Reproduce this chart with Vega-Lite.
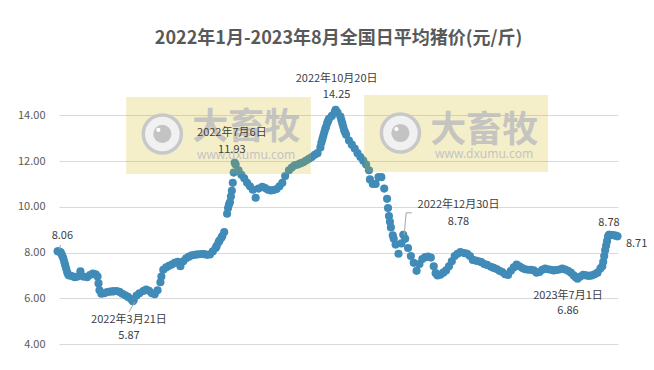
{
  "$schema": "https://vega.github.io/schema/vega-lite/v6.json",
  "width": 559,
  "height": 264,
  "autosize": "none",
  "padding": {"left": 59, "top": 80, "right": 36, "bottom": 26},
  "background": "white",
  "config": {"view": {"stroke": null}, "font": "Noto Sans CJK SC"},
  "title": {"text": "2022年1月-2023年8月全国日平均猪价(元/斤)", "font": "Noto Sans CJK SC", "fontSize": 18, "fontWeight": "bold", "color": "#595959", "anchor": "middle", "frame": "group", "offset": 11, "baseline": "alphabetic"},
  "datasets": {
    "price": [
      {"date":"2022-01-01","v":8.06},{"date":"2022-01-02","v":8.05},{"date":"2022-01-04","v":8.02},{"date":"2022-01-05","v":7.95},{"date":"2022-01-06","v":7.85},{"date":"2022-01-07","v":7.75},{"date":"2022-01-08","v":7.6},{"date":"2022-01-09","v":7.45},{"date":"2022-01-10","v":7.3},{"date":"2022-01-11","v":7.15},{"date":"2022-01-12","v":7.05},{"date":"2022-01-13","v":7.0},{"date":"2022-01-16","v":6.97},{"date":"2022-01-19","v":6.92},{"date":"2022-01-22","v":6.95},{"date":"2022-01-25","v":7.18},{"date":"2022-01-28","v":6.95},
      {"date":"2022-02-01","v":6.92},{"date":"2022-02-04","v":7.02},{"date":"2022-02-07","v":7.08},{"date":"2022-02-10","v":7.05},{"date":"2022-02-12","v":6.95},{"date":"2022-02-13","v":6.65},{"date":"2022-02-14","v":6.35},{"date":"2022-02-16","v":6.2},{"date":"2022-02-19","v":6.22},{"date":"2022-02-22","v":6.27},{"date":"2022-02-25","v":6.29},{"date":"2022-02-28","v":6.3},
      {"date":"2022-03-01","v":6.31},{"date":"2022-03-04","v":6.32},{"date":"2022-03-07","v":6.28},{"date":"2022-03-10","v":6.2},{"date":"2022-03-13","v":6.13},{"date":"2022-03-16","v":6.06},{"date":"2022-03-19","v":5.97},{"date":"2022-03-21","v":5.87},{"date":"2022-03-22","v":5.92},{"date":"2022-03-25","v":6.12},{"date":"2022-03-28","v":6.22},
      {"date":"2022-04-01","v":6.32},{"date":"2022-04-04","v":6.38},{"date":"2022-04-07","v":6.33},{"date":"2022-04-10","v":6.22},{"date":"2022-04-13","v":6.18},{"date":"2022-04-16","v":6.35},{"date":"2022-04-19","v":6.7},{"date":"2022-04-20","v":6.95},{"date":"2022-04-22","v":7.25},{"date":"2022-04-25","v":7.35},{"date":"2022-04-28","v":7.42},
      {"date":"2022-05-01","v":7.48},{"date":"2022-05-04","v":7.55},{"date":"2022-05-07","v":7.6},{"date":"2022-05-10","v":7.4},{"date":"2022-05-13","v":7.62},{"date":"2022-05-16","v":7.75},{"date":"2022-05-19","v":7.82},{"date":"2022-05-22","v":7.88},{"date":"2022-05-25","v":7.9},{"date":"2022-05-28","v":7.92},
      {"date":"2022-06-01","v":7.94},{"date":"2022-06-04","v":7.93},{"date":"2022-06-07","v":7.9},{"date":"2022-06-10","v":7.92},{"date":"2022-06-13","v":8.05},{"date":"2022-06-16","v":8.2},{"date":"2022-06-17","v":8.28},{"date":"2022-06-19","v":8.45},{"date":"2022-06-20","v":8.52},{"date":"2022-06-22","v":8.65},{"date":"2022-06-23","v":8.72},{"date":"2022-06-25","v":8.9},{"date":"2022-06-28","v":9.7},{"date":"2022-06-29","v":9.95},{"date":"2022-06-30","v":10.1},
      {"date":"2022-07-01","v":10.2},{"date":"2022-07-02","v":10.45},{"date":"2022-07-03","v":10.7},{"date":"2022-07-04","v":11.05},{"date":"2022-07-05","v":11.5},{"date":"2022-07-06","v":11.93},{"date":"2022-07-07","v":11.85},{"date":"2022-07-10","v":11.6},{"date":"2022-07-13","v":11.4},{"date":"2022-07-16","v":11.25},{"date":"2022-07-19","v":11.05},{"date":"2022-07-22","v":10.9},{"date":"2022-07-25","v":10.75},{"date":"2022-07-28","v":10.4},{"date":"2022-07-31","v":10.8},
      {"date":"2022-08-04","v":10.88},{"date":"2022-08-07","v":10.82},{"date":"2022-08-10","v":10.75},{"date":"2022-08-13","v":10.72},{"date":"2022-08-16","v":10.74},{"date":"2022-08-19","v":10.78},{"date":"2022-08-22","v":10.9},{"date":"2022-08-25","v":11.05},{"date":"2022-08-28","v":11.35},
      {"date":"2022-09-01","v":11.6},{"date":"2022-09-04","v":11.72},{"date":"2022-09-07","v":11.82},{"date":"2022-09-10","v":11.85},{"date":"2022-09-13","v":11.9},{"date":"2022-09-16","v":11.95},{"date":"2022-09-19","v":12.03},{"date":"2022-09-22","v":12.1},{"date":"2022-09-25","v":12.18},{"date":"2022-09-28","v":12.28},
      {"date":"2022-10-01","v":12.35},{"date":"2022-10-04","v":12.6},{"date":"2022-10-05","v":12.8},{"date":"2022-10-06","v":12.95},{"date":"2022-10-07","v":13.1},{"date":"2022-10-08","v":13.25},{"date":"2022-10-09","v":13.4},{"date":"2022-10-10","v":13.5},{"date":"2022-10-11","v":13.65},{"date":"2022-10-12","v":13.75},{"date":"2022-10-13","v":13.85},{"date":"2022-10-16","v":13.98},{"date":"2022-10-19","v":14.15},{"date":"2022-10-20","v":14.25},{"date":"2022-10-22","v":14.12},{"date":"2022-10-25","v":13.95},{"date":"2022-10-26","v":13.8},{"date":"2022-10-27","v":13.65},{"date":"2022-10-28","v":13.5},{"date":"2022-10-29","v":13.35},{"date":"2022-10-30","v":13.25},{"date":"2022-10-31","v":13.15},
      {"date":"2022-11-03","v":12.9},{"date":"2022-11-06","v":12.72},{"date":"2022-11-09","v":12.55},{"date":"2022-11-12","v":12.35},{"date":"2022-11-15","v":12.18},{"date":"2022-11-18","v":12.02},{"date":"2022-11-21","v":11.85},{"date":"2022-11-24","v":11.6},{"date":"2022-11-25","v":11.2},{"date":"2022-11-28","v":11.0},
      {"date":"2022-12-01","v":11.0},{"date":"2022-12-04","v":11.3},{"date":"2022-12-07","v":11.3},{"date":"2022-12-10","v":10.8},{"date":"2022-12-13","v":10.35},{"date":"2022-12-14","v":9.95},{"date":"2022-12-15","v":9.6},{"date":"2022-12-16","v":9.35},{"date":"2022-12-17","v":9.1},{"date":"2022-12-19","v":8.75},{"date":"2022-12-20","v":8.6},{"date":"2022-12-22","v":8.35},{"date":"2022-12-25","v":7.95},{"date":"2022-12-28","v":8.4},{"date":"2022-12-30","v":8.78},
      {"date":"2023-01-01","v":8.6},{"date":"2023-01-04","v":8.2},{"date":"2023-01-07","v":7.85},{"date":"2023-01-10","v":7.55},{"date":"2023-01-13","v":7.2},{"date":"2023-01-16","v":7.5},{"date":"2023-01-19","v":7.72},{"date":"2023-01-22","v":7.8},{"date":"2023-01-25","v":7.82},{"date":"2023-01-28","v":7.78},{"date":"2023-01-31","v":7.4},
      {"date":"2023-02-02","v":7.1},{"date":"2023-02-04","v":7.0},{"date":"2023-02-07","v":7.03},{"date":"2023-02-10","v":7.12},{"date":"2023-02-13","v":7.22},{"date":"2023-02-16","v":7.4},{"date":"2023-02-19","v":7.62},{"date":"2023-02-22","v":7.85},{"date":"2023-02-25","v":7.95},{"date":"2023-02-28","v":8.02},
      {"date":"2023-03-04","v":7.98},{"date":"2023-03-07","v":7.95},{"date":"2023-03-10","v":7.85},{"date":"2023-03-13","v":7.68},{"date":"2023-03-16","v":7.65},{"date":"2023-03-19","v":7.62},{"date":"2023-03-22","v":7.58},{"date":"2023-03-25","v":7.5},{"date":"2023-03-28","v":7.46},
      {"date":"2023-04-01","v":7.38},{"date":"2023-04-04","v":7.33},{"date":"2023-04-07","v":7.28},{"date":"2023-04-10","v":7.2},{"date":"2023-04-13","v":7.15},{"date":"2023-04-16","v":7.05},{"date":"2023-04-19","v":7.02},{"date":"2023-04-22","v":7.2},{"date":"2023-04-25","v":7.35},{"date":"2023-04-28","v":7.48},
      {"date":"2023-05-01","v":7.4},{"date":"2023-05-04","v":7.32},{"date":"2023-05-07","v":7.27},{"date":"2023-05-10","v":7.25},{"date":"2023-05-13","v":7.25},{"date":"2023-05-16","v":7.22},{"date":"2023-05-19","v":7.12},{"date":"2023-05-22","v":7.15},{"date":"2023-05-25","v":7.25},{"date":"2023-05-28","v":7.3},{"date":"2023-05-31","v":7.27},
      {"date":"2023-06-03","v":7.25},{"date":"2023-06-06","v":7.22},{"date":"2023-06-09","v":7.24},{"date":"2023-06-12","v":7.26},{"date":"2023-06-15","v":7.3},{"date":"2023-06-18","v":7.26},{"date":"2023-06-21","v":7.2},{"date":"2023-06-24","v":7.12},{"date":"2023-06-27","v":7.0},{"date":"2023-06-29","v":6.92},
      {"date":"2023-07-01","v":6.86},{"date":"2023-07-04","v":6.95},{"date":"2023-07-07","v":7.03},{"date":"2023-07-10","v":7.0},{"date":"2023-07-13","v":6.98},{"date":"2023-07-16","v":7.0},{"date":"2023-07-19","v":7.05},{"date":"2023-07-22","v":7.12},{"date":"2023-07-25","v":7.3},{"date":"2023-07-27","v":7.4},{"date":"2023-07-28","v":7.6},{"date":"2023-07-29","v":7.85},{"date":"2023-07-30","v":8.1},{"date":"2023-07-31","v":8.3},
      {"date":"2023-08-01","v":8.5},{"date":"2023-08-02","v":8.7},{"date":"2023-08-03","v":8.78},{"date":"2023-08-04","v":8.78},{"date":"2023-08-06","v":8.77},{"date":"2023-08-08","v":8.76},{"date":"2023-08-10","v":8.74},{"date":"2023-08-12","v":8.71}
    ],
    "box": [
      {"date":"2022-03-14","date2":"2022-09-24","v":14.81,"v2":11.44},
      {"date":"2022-11-19","date2":"2023-05-31","v":14.89,"v2":11.52}
    ],
    "logo": [
      {"date":"2022-04-21","v":13.19},
      {"date":"2022-12-27","v":13.23}
    ],
    "wmtext": [
      {"date":"2022-07-18","v":13.43,"t":"大畜牧"},
      {"date":"2023-03-25","v":13.34,"t":"大畜牧"}
    ],
    "wmurl": [
      {"date":"2022-07-18","v":12.27,"t":"www.dxumu.com"},
      {"date":"2023-03-25","v":12.33,"t":"www.dxumu.com"}
    ],
    "leaders": [
      {"date":"2022-01-04","v":8.33,"date2":"2022-01-03","v2":8.14},
      {"date":"2022-03-23","v":5.84,"date2":"2022-03-17","v2":5.4},
      {"date":"2022-12-31","v":8.77,"date2":"2023-01-02","v2":9.74},
      {"date":"2023-01-02","v":9.74,"date2":"2023-01-08","v2":9.74}
    ],
    "labels": [
      {"date":"2022-01-06","v":8.72,"t":"8.06"},
      {"date":"2022-03-17","v":5.05,"t":"2022年3月21日"},
      {"date":"2022-03-17","v":4.35,"t":"5.87"},
      {"date":"2022-07-03","v":13.23,"t":"2022年7月6日"},
      {"date":"2022-07-03","v":12.49,"t":"11.93"},
      {"date":"2022-10-21","v":15.59,"t":"2022年10月20日"},
      {"date":"2022-10-21","v":14.89,"t":"14.25"},
      {"date":"2023-02-26","v":10.08,"t":"2022年12月30日"},
      {"date":"2023-02-26","v":9.34,"t":"8.78"},
      {"date":"2023-08-03","v":9.31,"t":"8.78"},
      {"date":"2023-09-01","v":8.37,"t":"8.71"},
      {"date":"2023-06-21","v":6.11,"t":"2023年7月1日"},
      {"date":"2023-06-21","v":5.44,"t":"6.86"}
    ]
  },
  "encoding": {
    "x": {"field": "date", "type": "temporal", "axis": null,
          "scale": {"type": "utc", "domain": [{"year": 2022, "month": 1, "date": 2, "hours": 12, "utc": true}, {"year": 2023, "month": 8, "date": 12, "hours": 12, "utc": true}]}},
    "y": {"field": "v", "type": "quantitative",
          "scale": {"domain": [4, 15.55], "nice": false, "zero": false},
          "axis": {"values": [4, 6, 8, 10, 12, 14], "format": ".2f", "grid": true, "gridColor": "#d9d9d9", "gridWidth": 1, "domain": false, "ticks": false, "labelFontSize": 11, "labelColor": "#595959", "labelPadding": 14, "labelFont": "Noto Sans CJK SC", "title": null}}
  },
  "layer": [
    {"data": {"name": "price"}, "mark": {"type": "circle", "size": 66, "color": "#408bb8", "opacity": 1}},
    {"data": {"name": "box"}, "mark": {"type": "rect", "fill": "#cdb400", "opacity": 0.21},
     "encoding": {"x2": {"field": "date2"}, "y2": {"field": "v2"}}},
    {"data": {"name": "logo"}, "mark": {"type": "circle", "size": 1450, "fill": "#f1f1f1", "stroke": "#c8c8c8", "strokeWidth": 3.5, "opacity": 1}},
    {"data": {"name": "logo"}, "mark": {"type": "circle", "size": 330, "fill": "#c3c3c3", "opacity": 1}},
    {"data": {"name": "logo"}, "mark": {"type": "circle", "size": 18, "fill": "#ffffff", "opacity": 1, "xOffset": -4, "yOffset": -4}},
    {"data": {"name": "wmtext"}, "mark": {"type": "text", "fontSize": 36, "fontWeight": "bold", "font": "Noto Sans CJK SC", "fill": "#c0c0c0", "opacity": 0.9, "align": "center", "baseline": "middle"},
     "encoding": {"text": {"field": "t"}}},
    {"data": {"name": "wmurl"}, "mark": {"type": "text", "fontSize": 12, "font": "Noto Sans", "fill": "#c4c4c4", "align": "center", "baseline": "middle"},
     "encoding": {"text": {"field": "t"}}},
    {"data": {"name": "leaders"}, "mark": {"type": "rule", "color": "#a6a6a6", "strokeWidth": 1},
     "encoding": {"x2": {"field": "date2"}, "y2": {"field": "v2"}}},
    {"data": {"name": "labels"}, "mark": {"type": "text", "fontSize": 11, "font": "Noto Sans CJK SC", "fill": "#404040", "align": "center", "baseline": "middle"},
     "encoding": {"text": {"field": "t"}}}
  ]
}
